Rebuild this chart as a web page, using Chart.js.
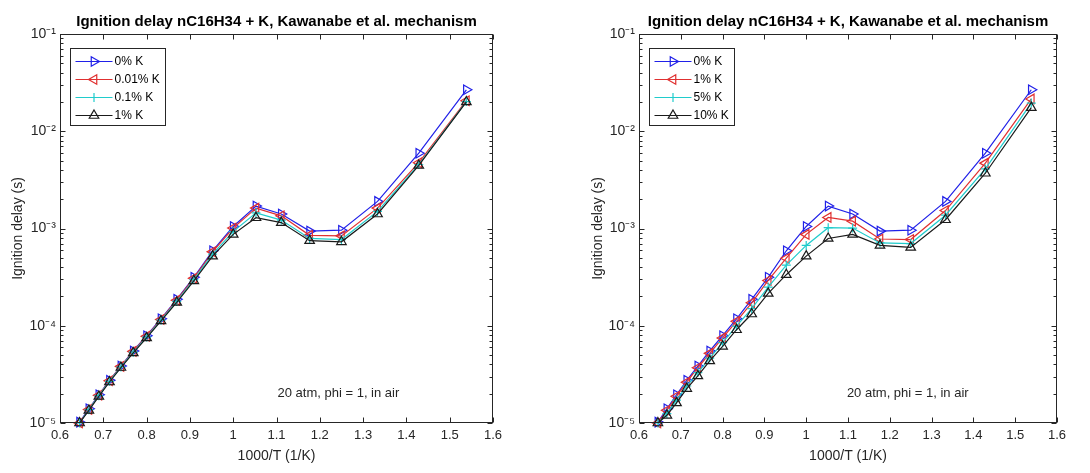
<!DOCTYPE html>
<html>
<head>
<meta charset="utf-8">
<script src="https://cdn.jsdelivr.net/npm/chart.js@4.4.1/dist/chart.umd.min.js"></script>
<style>
html,body{margin:0;padding:0;background:#fff;}
#wrap{position:relative;width:1090px;height:473px;overflow:hidden;background:#fff;}
canvas{position:absolute;top:0;}
</style>
</head>
<body>
<div id="wrap">
<canvas id="c1" width="545" height="473" style="left:0px"></canvas>
<canvas id="c2" width="545" height="473" style="left:545px"></canvas>
</div>
<script>
// ---------------- DATA ----------------
const invT = [0.6452, 0.6667, 0.6897, 0.7143, 0.7407, 0.7692, 0.8000, 0.8333, 0.8696, 0.9091,
              0.9524, 1.0000, 1.0526, 1.1111, 1.1765, 1.2500, 1.3333, 1.4286, 1.5385];

// left panel (0, 0.01, 0.1, 1 % K)
const delay_0K     = [1.02e-5, 1.40e-5, 1.95e-5, 2.75e-5, 3.85e-5, 5.5e-5, 7.9e-5, 1.18e-4, 1.87e-4, 3.15e-4,
                      5.9e-4, 1.05e-3, 1.70e-3, 1.41e-3, 9.4e-4, 9.6e-4, 1.90e-3, 5.95e-3, 2.67e-2];
const delayA_001K  = [1.0e-5, 1.38e-5, 1.93e-5, 2.72e-5, 3.82e-5, 5.45e-5, 7.8e-5, 1.16e-4, 1.83e-4, 3.08e-4,
                      5.75e-4, 1.01e-3, 1.62e-3, 1.35e-3, 8.5e-4, 8.4e-4, 1.62e-3, 4.75e-3, 2.06e-2];
const delayA_01K   = [1.0e-5, 1.37e-5, 1.91e-5, 2.68e-5, 3.77e-5, 5.35e-5, 7.65e-5, 1.14e-4, 1.78e-4, 2.98e-4,
                      5.45e-4, 9.3e-4, 1.45e-3, 1.22e-3, 7.9e-4, 7.7e-4, 1.50e-3, 4.55e-3, 2.02e-2];
const delayA_1K    = [1.0e-5, 1.35e-5, 1.88e-5, 2.64e-5, 3.72e-5, 5.25e-5, 7.5e-5, 1.12e-4, 1.74e-4, 2.90e-4,
                      5.2e-4, 8.7e-4, 1.29e-3, 1.15e-3, 7.5e-4, 7.3e-4, 1.41e-3, 4.45e-3, 2.0e-2];

// right panel (0, 1, 5, 10 % K)
const delayB_1K    = [1.0e-5, 1.35e-5, 1.88e-5, 2.63e-5, 3.70e-5, 5.2e-5, 7.5e-5, 1.11e-4, 1.72e-4, 2.92e-4,
                      4.95e-4, 8.7e-4, 1.30e-3, 1.19e-3, 7.8e-4, 7.7e-4, 1.53e-3, 4.7e-3, 2.15e-2];
const delayB_5K    = [1.0e-5, 1.25e-5, 1.72e-5, 2.40e-5, 3.30e-5, 4.65e-5, 6.7e-5, 9.9e-5, 1.50e-4, 2.50e-4,
                      4.2e-4, 6.7e-4, 1.02e-3, 1.01e-3, 7.1e-4, 7.0e-4, 1.37e-3, 4.1e-3, 1.95e-2];
const delayB_10K   = [1.0e-5, 1.20e-5, 1.61e-5, 2.26e-5, 3.05e-5, 4.35e-5, 6.15e-5, 9.1e-5, 1.32e-4, 2.15e-4,
                      3.35e-4, 5.2e-4, 7.9e-4, 8.7e-4, 6.7e-4, 6.4e-4, 1.23e-3, 3.7e-3, 1.75e-2];

const labelsA = ['0% K', '0.01% K', '0.1% K', '1% K'];
const labelsB = ['0% K', '1% K', '5% K', '10% K'];

const xTickValues = [0.6, 0.7, 0.8, 0.9, 1.0, 1.1, 1.2, 1.3, 1.4, 1.5, 1.6];
const xTickLabels = ['0.6', '0.7', '0.8', '0.9', '1', '1.1', '1.2', '1.3', '1.4', '1.5', '1.6'];
const yMajorValues = [1e-5, 1e-4, 1e-3, 1e-2, 1e-1];
const yTickLabels = ['10\u207B\u2075', '10\u207B\u2074', '10\u207B\u00B3', '10\u207B\u00B2', '10\u207B\u00B9'];
const yMinorMultipliers = [2, 3, 4, 5, 6, 7, 8, 9];

const chartTitle = 'Ignition delay nC16H34 + K, Kawanabe et al. mechanism';
const xTitle = '1000/T (1/K)';
const yTitle = 'Ignition delay (s)';
const noteText = '20 atm, phi = 1, in air';

// ---------------- STYLE ----------------
const FONT = "'Liberation Sans', Arial, Helvetica, sans-serif";
const AXIS = '#262626';
const noteAt = {x: 1.243, y: 2.0e-5};
const styles = [
  {color: '#2020e8', pointStyle: 'triangle', rotation: 90,  radius: 5.5},
  {color: '#e03030', pointStyle: 'triangle', rotation: -90, radius: 5.5},
  {color: '#20cccc', pointStyle: 'cross',    rotation: 0,   radius: 4.5},
  {color: '#1a1a1a', pointStyle: 'triangle', rotation: 0,   radius: 5.5}
];

Chart.defaults.font.family = FONT;
Chart.defaults.color = AXIS;

function isMajor(v) {
  return yMajorValues.some(m => Math.abs(Math.log10(v) - Math.log10(m)) < 1e-6);
}

const framePlugin = {
  id: 'frame',
  afterDraw(chart) {
    const {ctx, chartArea: a, scales: {x, y}} = chart;
    const L = Math.round(a.left) + 0.5, R = Math.round(a.right) - 0.5;
    const T = Math.round(a.top) + 0.5, B = Math.round(a.bottom) - 0.5;
    ctx.save();
    ctx.strokeStyle = AXIS;
    ctx.lineWidth = 1;
    ctx.beginPath();
    x.ticks.forEach(t => {
      const px = Math.round(x.getPixelForValue(t.value)) + 0.5;
      ctx.moveTo(px, B); ctx.lineTo(px, B - 5);
      ctx.moveTo(px, T); ctx.lineTo(px, T + 5);
    });
    y.ticks.forEach(t => {
      const py = Math.round(y.getPixelForValue(t.value)) + 0.5;
      const len = isMajor(t.value) ? 5 : 3;
      ctx.moveTo(L, py); ctx.lineTo(L + len, py);
      ctx.moveTo(R, py); ctx.lineTo(R - len, py);
    });
    ctx.stroke();
    ctx.strokeRect(L, T, R - L, B - T);
    ctx.restore();
  }
};

const legendPlugin = {
  id: 'boxLegend',
  afterDraw(chart) {
    const {ctx, chartArea: a} = chart;
    const ds = chart.data.datasets;
    ctx.save();
    ctx.font = '12px ' + FONT;
    const tw = Math.max(...ds.map(d => ctx.measureText(d.label).width));
    const rowH = 18, lineLen = 37;
    const bx = Math.round(a.left + 10) + 0.5, by = Math.round(a.top + 14) + 0.5;
    const bw = Math.round(5.5 + lineLen + 2 + tw + 5), bh = rowH * ds.length + 5;
    ctx.fillStyle = '#ffffff';
    ctx.fillRect(bx, by, bw, bh);
    ctx.strokeStyle = AXIS;
    ctx.lineWidth = 1;
    ctx.strokeRect(bx, by, bw, bh);
    ds.forEach((d, i) => {
      const cy = Math.round(by + 12 + i * rowH) + 0.5;
      const x0 = bx + 5, x1 = x0 + lineLen;
      ctx.strokeStyle = d.borderColor;
      ctx.lineWidth = 1.2;
      ctx.beginPath(); ctx.moveTo(x0, cy); ctx.lineTo(x1, cy); ctx.stroke();
      ctx.fillStyle = 'rgba(0,0,0,0)';
      Chart.helpers.drawPoint(ctx, {pointStyle: d.pointStyle, rotation: d.pointRotation,
                                    radius: d.pointRadius, borderWidth: 1.2}, (x0 + x1) / 2, cy);
      ctx.fillStyle = '#000';
      ctx.textAlign = 'left';
      ctx.textBaseline = 'middle';
      ctx.fillText(d.label, x1 + 2, cy);
    });
    ctx.restore();
  }
};

const notePlugin = {
  id: 'note',
  afterDraw(chart) {
    const {ctx, scales: {x, y}} = chart;
    ctx.save();
    ctx.font = '13px ' + FONT;
    ctx.fillStyle = AXIS;
    ctx.textAlign = 'center';
    ctx.textBaseline = 'middle';
    ctx.fillText(noteText, x.getPixelForValue(noteAt.x), y.getPixelForValue(noteAt.y));
    ctx.restore();
  }
};

function makeChart(id, seriesValues, seriesLabels, geom) {
  const datasets = seriesValues.map((vals, i) => ({
    label: seriesLabels[i],
    data: invT.map((xv, j) => ({x: xv, y: vals[j]})),
    borderColor: styles[i].color,
    backgroundColor: 'rgba(0,0,0,0)',
    borderWidth: 1.2,
    pointStyle: styles[i].pointStyle,
    pointRotation: styles[i].rotation,
    pointRadius: styles[i].radius,
    pointBorderColor: styles[i].color,
    pointBackgroundColor: 'rgba(0,0,0,0)',
    pointBorderWidth: 1.2,
    tension: 0,
    fill: false,
    clip: false,
    order: seriesValues.length - 1 - i
  }));
  return new Chart(document.getElementById(id), {
    type: 'line',
    data: {datasets},
    plugins: [framePlugin, legendPlugin, notePlugin],
    options: {
      responsive: false,
      devicePixelRatio: 1,
      animation: false,
      events: [],
      layout: {padding: {left: geom.padLeft, right: geom.padRight, top: 0, bottom: 0}},
      plugins: {
        legend: {display: false},
        tooltip: {enabled: false},
        title: {
          display: true, text: chartTitle, fullSize: false, color: '#000',
          font: {size: 15, weight: 'bold', family: FONT},
          padding: {top: 13, bottom: 3}
        }
      },
      scales: {
        x: {
          type: 'linear', min: 0.6, max: 1.6,
          afterBuildTicks: s => { s.ticks = xTickValues.map(v => ({value: v})); },
          ticks: {autoSkip: false, maxRotation: 0, padding: 5, font: {size: 13}, color: AXIS,
                  callback: (v, i) => xTickLabels[i]},
          grid: {display: false, drawTicks: false},
          border: {display: false},
          title: {display: true, text: xTitle, color: AXIS, font: {size: 14},
                  padding: {top: 0, bottom: 8}},
          afterFit: s => { s.height = 50; }
        },
        y: {
          type: 'logarithmic', min: 1e-5, max: 1e-1,
          afterBuildTicks: s => {
            const t = [];
            yMajorValues.forEach((m, k) => {
              t.push({value: m});
              if (k < yMajorValues.length - 1) yMinorMultipliers.forEach(f => t.push({value: m * f}));
            });
            s.ticks = t;
          },
          ticks: {autoSkip: false, padding: 4, font: {size: 14}, color: AXIS,
                  callback: v => {
                    const k = yMajorValues.findIndex(m => Math.abs(Math.log10(v) - Math.log10(m)) < 1e-6);
                    return k >= 0 ? yTickLabels[k] : '';
                  }},
          grid: {display: false, drawTicks: false},
          border: {display: false},
          title: {display: true, text: yTitle, color: AXIS, font: {size: 14},
                  padding: {top: geom.yTitlePad, bottom: 0}},
          afterFit: s => { s.width = geom.yWidth; }
        }
      }
    }
  });
}

makeChart('c1', [delay_0K, delayA_001K, delayA_01K, delayA_1K], labelsA,
          {padLeft: 0, padRight: 52, yWidth: 60, yTitlePad: 10});
makeChart('c2', [delay_0K, delayB_1K, delayB_5K, delayB_10K], labelsB,
          {padLeft: 35, padRight: 33, yWidth: 59, yTitlePad: 10});
</script>
</body>
</html>
